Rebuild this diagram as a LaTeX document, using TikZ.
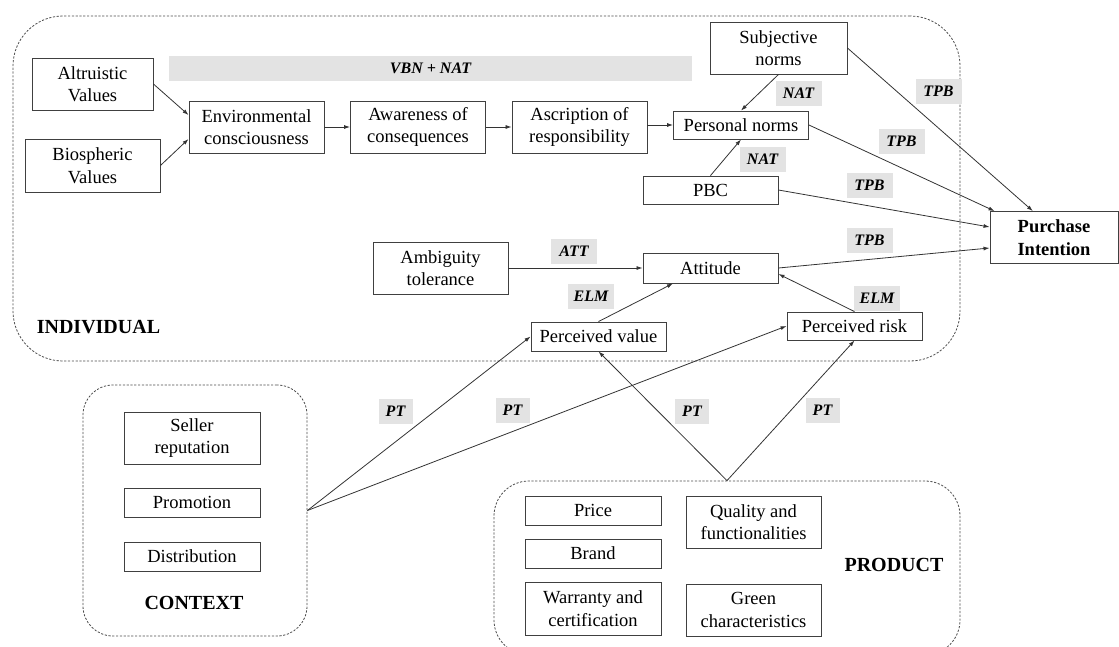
\documentclass[tikz,border=0pt]{standalone}
\usepackage{fontspec}
\setmainfont{Liberation Serif}
\usepackage{tikz}
\usetikzlibrary{arrows.meta, calc}

\begin{document}
\begin{tikzpicture}[x=1pt, y=-1pt,
  every node/.style={font=\fontsize{18.5}{22.5}\selectfont, inner sep=0pt, align=center},
  box/.style={draw=black!75, line width=0.9pt, minimum width=135pt, minimum height=52pt},
  flat/.style={box, minimum height=29pt},
  tag/.style={fill=black!11, minimum width=46pt, minimum height=25pt, font=\fontsize{16}{19}\selectfont\bfseries\itshape},
  group/.style={draw=black!70, line width=0.8pt, dash pattern=on 2.2pt off 1.6pt, rounded corners=#1},
  group/.default=30pt,
  link/.style={draw=black!80, line width=0.8pt, -{Latex[length=6pt,width=4pt]}},
  title/.style={font=\fontsize{20}{24}\selectfont\bfseries}]
\useasboundingbox (0,0) rectangle (1119,646);

% Groups
\node[group=50pt, minimum width=947pt, minimum height=345pt] (indiv) at (486.5,188.5) {};
\node[group=30pt, minimum width=224pt, minimum height=251pt] (ctx) at (195,510.5) {};
\node[group=35pt, minimum width=466pt, minimum height=174pt] (prod) at (727,568) {};
\node[title] (indivtitle) at (98.5,327) {INDIVIDUAL};
\node[title] (ctxtitle) at (194,603) {CONTEXT};
\node[title] (prodtitle) at (894,565) {PRODUCT};

% Theory tags
\node[tag, minimum width=523pt] (vbn) at (430.5,68.5) {VBN + NAT};
\foreach \name/\x/\y/\txt in {nat1/798.5/93.5/NAT, nat2/762.5/159/NAT,
    tpb1/938.5/91.5/TPB, tpb2/901.5/141.5/TPB, tpb3/869.5/185.5/TPB, tpb4/869.5/240.5/TPB,
    att/574/251/ATT, elm1/591/296/ELM, elm2/877/298/ELM}
  \node[tag] (\name) at (\x,\y) {\txt};
\foreach \name/\x/\y in {pt1/395.5/411.5, pt2/512.5/410, pt3/692/411, pt4/822.5/410}
  \node[tag, minimum width=34pt] (\name) at (\x,\y) {PT};

% Individual
\node[box, minimum width=121pt] (alt) at (92.5,84) {Altruistic\\Values};
\node[box, minimum height=53pt] (bio) at (92.5,165.5) {Biospheric\\Values};
\node[box] (env) at (256.5,127) {Environmental\\consciousness};
\node[box] (awa) at (418,127) {Awareness of\\consequences};
\node[box] (asc) at (579.5,127) {Ascription of\\responsibility};
\node[flat, minimum height=28pt] (pn) at (741,125) {Personal norms};
\node[box, minimum width=137pt] (sn) at (778.5,48) {Subjective\\norms};
\node[flat, minimum height=28pt] (pbc) at (710.5,190) {PBC};
\node[box] (amb) at (440.5,268) {Ambiguity\\tolerance};
\node[flat, minimum height=30pt] (attd) at (710.5,268) {Attitude};
\node[flat] (pv) at (598.5,336.5) {Perceived value};
\node[flat, minimum height=28pt] (pr) at (854.5,326) {Perceived risk};
\node[box, minimum width=128pt, font=\fontsize{18.5}{22.5}\selectfont\bfseries] (pi) at (1054,237.5) {Purchase\\Intention};

% Context
\node[box, minimum width=136pt] (sel) at (192,438) {Seller\\reputation};
\node[flat, minimum width=136pt] (promo) at (192,502.5) {Promotion};
\node[flat, minimum width=136pt] (dist) at (192,556.5) {Distribution};

% Product
\node[flat, minimum width=136pt] (price) at (593,510.5) {Price};
\node[flat, minimum width=136pt] (brand) at (593,553.5) {Brand};
\node[box, minimum width=136pt, minimum height=53pt] (war) at (593,608.5) {Warranty and\\certification};
\node[box] (qual) at (753.5,522) {Quality and\\functionalities};
\node[box] (green) at (753.5,610) {Green\\characteristics};

% Links
\draw[link] (alt.east) -- (env.170);
\draw[link] (bio.east) -- (env.190);
\draw[link] (env) -- (awa);
\draw[link] (awa) -- (asc);
\draw[link] (asc.east |- pn.west) -- (pn.west);
\draw[link] (sn.south) -- (pn.north);
\draw[link] (pbc.north) -- (pn.south);
\draw[link] (sn.east) -- ($(pi.north west)!0.336!(pi.north east)$);
\draw[link] (pn.east) -- ($(pi.north west)+(5,0)$);
\draw[link] (pbc.east) -- ($(pi.west)+(0,-10.5)$);
\draw[link] (attd.east) -- ($(pi.west)+(0,10.5)$);
\draw[link] (amb) -- (attd);
\draw[link] (pv.north) -- ($(attd.south)+(-37.5,0)$);
\draw[link] (pr.north) -- ($(attd.east)+(0,6)$);
\draw[link] (ctx.east) -- (pv.west);
\draw[link] (ctx.east) -- (pr.west);
\draw[link] (prod.north) -- (pv.south);
\draw[link] (prod.north) -- (pr.south);
\end{tikzpicture}
\end{document}
